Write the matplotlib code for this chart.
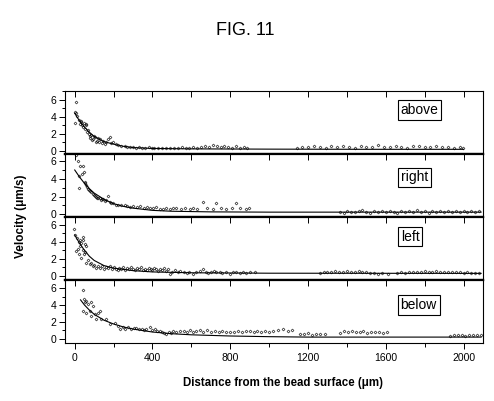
import matplotlib
matplotlib.use("Agg")
import matplotlib.pyplot as plt
from matplotlib.ticker import MultipleLocator

plt.rcParams['font.family'] = ['Liberation Sans', 'DejaVu Sans']

# ---------------- data ----------------
panel_names = ["above", "right", "left", "below"]

above_x = [5, 0, 9, 14, 0, 20, 25, 30, 34, 38, 43, 48, 52, 56, 60, 64, 69, 73, 77, 80, 85, 90, 94, 98,
           103, 108, 112, 118, 124, 129, 138, 146, 155, 163, 171, 180, 188, 197, 210, 225, 240, 257, 270, 283,
           300, 315, 330, 345, 360, 380, 395, 410, 430, 450, 470, 490, 510, 530, 550, 570, 590, 610, 630, 650,
           670, 690, 710, 730, 750, 770, 790, 810, 830, 850, 870, 885,
           1145, 1170, 1200, 1230, 1260, 1290, 1320, 1350, 1380, 1410, 1440, 1470, 1500, 1530, 1560, 1590,
           1620, 1650, 1680, 1710, 1740, 1770, 1800, 1830, 1860, 1890, 1920, 1950, 1980, 1995]
above_y = [5.7, 4.6, 4.4, 4.1, 3.3, 3.6, 3.2, 3.5, 3.4, 3.0, 2.8, 3.3, 2.6, 3.1, 3.0, 2.2, 2.4, 2.0, 1.8, 1.5,
           1.9, 1.3, 1.4, 1.7, 1.6, 1.1, 1.2, 1.5, 1.0, 1.4, 0.9, 1.2, 0.8, 1.0, 1.4, 1.6, 0.9, 1.1, 0.8, 0.7,
           0.6, 0.6, 0.5, 0.44,
           0.5, 0.4, 0.45, 0.35, 0.4, 0.5, 0.35, 0.4, 0.3, 0.4, 0.35, 0.4, 0.3, 0.4, 0.45, 0.35, 0.4, 0.5, 0.35,
           0.45, 0.6, 0.5, 0.65, 0.55, 0.45, 0.6, 0.5, 0.4, 0.55, 0.4, 0.45, 0.4,
           0.4, 0.5, 0.45, 0.6, 0.5, 0.4, 0.55, 0.45, 0.6, 0.5, 0.4, 0.55, 0.45, 0.5, 0.65, 0.5,
           0.45, 0.6, 0.5, 0.4, 0.55, 0.6, 0.45, 0.5, 0.6, 0.45, 0.5, 0.4, 0.45, 0.35]
above_fit_x = [0, 25, 50, 75, 100, 150, 200, 250, 300, 400, 600, 1000, 1500, 2000]
above_fit_y = [4.4, 3.5, 2.8, 2.2, 1.7, 1.1, 0.8, 0.55, 0.4, 0.3, 0.25, 0.22, 0.2, 0.2]

right_x = [5, 17, 29, 40, 22, 46, 22, 35, 51, 55, 60, 65, 69, 75, 80, 86, 92, 97, 103, 110, 115, 120, 128,
           135, 140, 146, 155, 163, 171, 180, 189, 197, 210, 223, 240, 257, 270, 283, 300, 320, 335, 355, 370,
           386, 405, 420, 437, 454, 470, 490, 506, 523, 545, 565, 592, 610, 630, 660, 680, 711, 729, 750, 780,
           810, 832, 850, 883, 895,
           1365, 1385, 1400, 1420, 1440, 1460, 1480, 1500, 1520, 1540, 1560, 1580, 1600, 1620, 1640, 1660,
           1680, 1700, 1720, 1740, 1760, 1780, 1800, 1820, 1840, 1860, 1880, 1900, 1920, 1940, 1960, 1980,
           2000, 2020, 2040, 2060, 2080]
right_y = [6.7, 6.0, 5.5, 5.4, 4.3, 4.8, 3.0, 4.5, 3.7, 3.5, 3.3, 3.1, 2.9, 2.8, 2.6, 2.5, 2.3, 2.2, 2.1, 2.0,
           1.8, 1.9, 1.8, 1.6, 1.7, 1.7, 1.5, 1.6, 2.05, 1.4, 1.3, 1.3, 1.1, 1.05, 1.0, 1.0, 0.9, 0.85, 0.9,
           0.8, 0.9, 0.75, 0.8, 0.75, 0.7, 0.8, 0.65, 0.65, 0.7, 0.6, 0.7, 0.7, 0.65, 0.7, 0.6, 0.7, 0.65,
           1.4, 0.7, 0.6, 1.3, 0.7, 0.65, 0.7, 1.3, 0.7, 0.6, 0.7,
           0.3, 0.2, 0.4, 0.3, 0.25, 0.35, 0.45, 0.3, 0.2, 0.35, 0.3, 0.4, 0.25, 0.35, 0.3, 0.2,
           0.4, 0.3, 0.35, 0.25, 0.45, 0.3, 0.35, 0.2, 0.4, 0.3, 0.35, 0.25, 0.4, 0.3, 0.35, 0.25,
           0.4, 0.3, 0.35, 0.3, 0.4]
right_fit_x = [0, 25, 50, 75, 100, 150, 200, 250, 300, 400, 500, 700, 1000, 2090]
right_fit_y = [5.0, 4.2, 3.5, 2.9, 2.4, 1.7, 1.2, 0.9, 0.7, 0.45, 0.35, 0.28, 0.25, 0.25]

left_x = [-5, 0, 12, 26, 40, 34, 20, 45, 51, 60, 26, 9, 15, 22, 34, 46, 40, 55, 60, 70, 77, 85, 94, 100, 111,
          120, 130, 140, 150, 160, 170, 180, 190, 200, 210, 220, 230, 240, 250, 260, 270, 280, 290, 300, 310,
          320, 330, 340, 350, 360, 370, 380, 390, 400, 410, 420, 430, 440, 450, 460, 470, 480, 489, 500, 515,
          530, 540, 560, 575, 590, 609, 625, 643, 660, 675, 686, 700, 715, 729, 745, 760, 780, 797, 815, 830,
          850, 865, 883, 900, 926,
          1261, 1280, 1300, 1320, 1340, 1360, 1380, 1400, 1420, 1440, 1460, 1480, 1500, 1520, 1540, 1560,
          1580, 1610,
          1660, 1680, 1700, 1720, 1740, 1760, 1780, 1800, 1820, 1840, 1860, 1880, 1900, 1920, 1940, 1960,
          1980, 2000, 2020, 2040, 2060, 2080]
left_y = [5.5, 4.8, 4.45, 4.25, 4.6, 3.9, 4.0, 4.2, 3.7, 3.5, 3.5, 2.9, 3.2, 2.5, 2.1, 2.5, 3.0, 2.8, 1.55,
          1.8, 1.35, 1.5, 1.15, 1.3, 0.97, 1.1, 0.9, 1.2, 0.8, 1.0, 0.9, 1.1, 0.75, 1.0, 0.85, 0.7, 0.95, 0.8,
          1.05, 0.7, 0.9, 0.75, 1.0, 0.8, 0.65, 0.9, 0.75, 1.0, 0.7, 0.85, 0.65, 0.9, 0.8, 0.7, 0.95, 0.75,
          0.6, 0.85, 0.7, 0.9, 0.6, 0.75, 0.2, 0.5, 0.7, 0.4, 0.6, 0.45, 0.3, 0.5, 0.2, 0.45, 0.6, 0.85, 0.5,
          0.35, 0.4, 0.55, 0.4, 0.5, 0.35, 0.45, 0.25, 0.4, 0.5, 0.35, 0.45, 0.3, 0.4, 0.4,
          0.3, 0.4, 0.5, 0.45, 0.55, 0.4, 0.5, 0.6, 0.45, 0.5, 0.55, 0.4, 0.45, 0.35, 0.3, 0.2, 0.35, 0.25,
          0.3, 0.4, 0.35, 0.45, 0.4, 0.5, 0.45, 0.55, 0.5, 0.45, 0.55, 0.4, 0.5, 0.45, 0.5, 0.4,
          0.45, 0.35, 0.4, 0.3, 0.35, 0.3]
left_fit_x = [0, 25, 50, 75, 100, 150, 200, 300, 400, 600, 1000, 2090]
left_fit_y = [4.8, 3.8, 3.0, 2.3, 1.8, 1.2, 0.9, 0.6, 0.45, 0.35, 0.3, 0.28]

below_x = [40, 46, 51, 60, 69, 86, 94, 43, 60, 77, 86, 103, 120, 129, 111, 137, 163, 180, 206, 220, 232, 249,
           260, 274, 290, 305, 317, 330, 345, 358, 369, 386, 400, 415, 425, 437, 450, 460, 472, 485, 495, 506,
           520, 540, 560, 580, 592, 610, 625, 643, 660, 678, 700, 720, 740, 760, 780, 800, 820, 840, 860, 880,
           900, 920, 940, 960, 980, 1000, 1020, 1045, 1070, 1095, 1120, 1160, 1180, 1200, 1220, 1240, 1260,
           1285, 1365, 1385, 1405, 1425, 1445, 1465, 1485, 1505, 1525, 1545, 1565, 1585, 1605,
           1930, 1950, 1970, 1990, 2010, 2030, 2050, 2070, 2090]
below_y = [5.8, 4.7, 4.3, 4.5, 4.1, 4.3, 3.9, 3.3, 3.1, 3.3, 2.7, 2.9, 3.1, 3.3, 2.3, 2.3, 2.3, 1.7, 1.9, 1.5,
           1.1, 1.4, 1.2, 1.35, 1.2, 1.3, 1.25, 1.15, 1.2, 1.05, 1.1, 1.4, 1.0, 1.1, 0.9, 0.95, 0.8, 0.7, 0.6,
           0.8, 0.7, 0.95, 0.8, 0.95, 0.9, 0.8, 1.0, 0.85, 0.9, 1.0, 0.8, 1.0, 0.85, 0.9, 0.8, 0.95, 0.8, 0.85,
           0.75, 0.9, 0.8, 0.95, 0.9, 0.85, 0.95, 0.8, 0.9, 0.85, 0.9, 1.0, 1.1, 0.95, 1.0, 0.6, 0.55, 0.65,
           0.5, 0.6, 0.55, 0.6, 0.7, 0.9, 0.8, 0.95, 0.75, 0.85, 0.9, 0.7, 0.8, 0.75, 0.85, 0.7, 0.75,
           0.35, 0.45, 0.4, 0.5, 0.35, 0.45, 0.4, 0.5, 0.45]
below_fit_x = [30, 50, 75, 100, 150, 200, 250, 300, 400, 500, 600, 800, 1000, 1200, 2090]
below_fit_y = [4.6, 4.0, 3.4, 2.9, 2.2, 1.75, 1.4, 1.15, 0.8, 0.6, 0.47, 0.33, 0.25, 0.2, 0.2]

x_ticks = [0, 400, 800, 1200, 1600, 2000]
y_ticks = [0, 2, 4, 6]

points = [(above_x, above_y), (right_x, right_y), (left_x, left_y), (below_x, below_y)]
fits = [(above_fit_x, above_fit_y), (right_fit_x, right_fit_y), (left_fit_x, left_fit_y),
        (below_fit_x, below_fit_y)]
ylims = [(-0.35, 7.0), (-0.3, 6.8), (-0.5, 6.9), (-0.5, 6.95)]
label_y = [0.70, 0.63, 0.69, 0.60]

# ---------------- figure ----------------
fig = plt.figure(figsize=(4.94, 4.01), dpi=100)
gs = fig.add_gridspec(4, 1, left=0.1316, right=0.9777, top=0.773, bottom=0.1446, hspace=0)
axes = [fig.add_subplot(gs[i]) for i in range(4)]

for i, ax in enumerate(axes):
    px, py = points[i]
    fx, fy = fits[i]
    ax.plot(px, py, linestyle='none', marker='D', markersize=1.5, markerfacecolor='none',
            markeredgecolor='black', markeredgewidth=0.4)
    ax.plot(fx, fy, color='black', linewidth=0.8)
    ax.set_xlim(-50, 2100)
    ax.set_ylim(*ylims[i])
    ax.set_yticks(y_ticks)
    ax.yaxis.set_minor_locator(MultipleLocator(1))
    ax.tick_params(axis='y', which='major', direction='out', length=4, width=0.7, labelsize=7.5, pad=2)
    ax.tick_params(axis='y', which='minor', direction='out', length=2, width=0.7)
    # top ticks pointing inward
    sec = ax.secondary_xaxis('top')
    sec.set_xticks(list(range(0, 2001, 200)))
    sec.tick_params(axis='x', direction='in', length=4, width=0.7, labeltop=False)
    sec.spines['top'].set_visible(False)
    for s in ['left', 'right']:
        ax.spines[s].set_linewidth(0.8)
    ax.spines['top'].set_linewidth(1.6 if i > 0 else 0.8)
    ax.spines['bottom'].set_linewidth(1.6 if i < 3 else 0.8)
    if i < 3:
        ax.tick_params(axis='x', which='both', bottom=False, labelbottom=False)
    else:
        ax.set_xticks(x_ticks)
        ax.set_xticklabels([str(v) for v in x_ticks])
        ax.xaxis.set_minor_locator(MultipleLocator(200))
        ax.tick_params(axis='x', which='major', direction='out', length=4, width=0.7, labelsize=7.5, pad=3)
        ax.tick_params(axis='x', which='minor', direction='out', length=3, width=0.7)
    ax.text(0.803, label_y[i], panel_names[i], transform=ax.transAxes, ha='left', va='center',
            fontsize=10,
            bbox=dict(boxstyle='square,pad=0.2', facecolor='white', edgecolor='black', linewidth=0.8))

fig.text(0.497, 0.925, "FIG. 11", ha='center', va='center', fontsize=13)
fig.text(0.573, 0.045, "Distance from the bead surface (μm)", ha='center', va='center',
         fontsize=8.3, fontweight='bold')
fig.text(0.042, 0.46, "Velocity (μm/s)", ha='center', va='center', rotation=90,
         fontsize=8.5, fontweight='bold')

fig.savefig("out.png", dpi=100)
